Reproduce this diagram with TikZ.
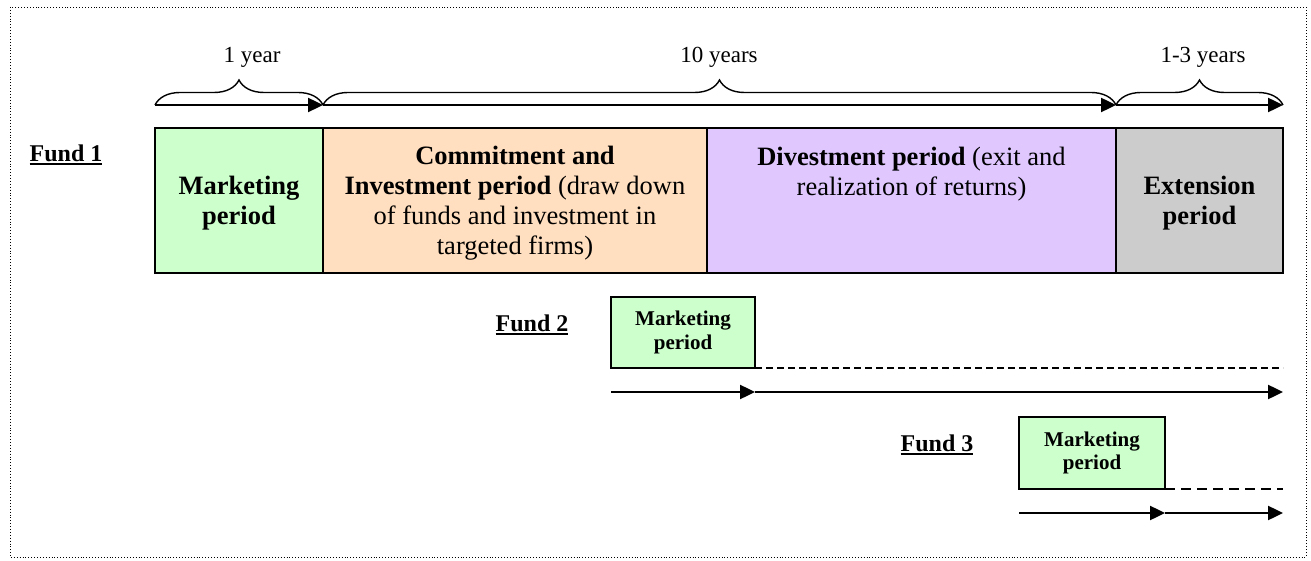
\documentclass[tikz,border=0pt]{standalone}
\usepackage{fontspec}
\setmainfont{Liberation Serif}
\usepackage{tikz}
\usetikzlibrary{arrows.meta,decorations.pathreplacing}

\definecolor{mkgreen}{RGB}{204,255,204}
\definecolor{invorange}{RGB}{255,223,191}
\definecolor{divpurple}{RGB}{224,200,255}
\definecolor{extgrey}{RGB}{204,204,204}

\newcommand{\fundul}[1]{\setbox0\hbox{#1}\rlap{\rule[-4pt]{\wd0}{2pt}}\box0}
\newcommand{\topgap}{\rule{0pt}{24pt}}

\begin{document}
\begin{tikzpicture}
		[x=1pt,y=-1pt,
		ph/.style={draw=black,line width=1.6pt,inner sep=0pt,outer sep=0pt,align=center,minimum height=145pt,font=\fontsize{26.5}{30}\selectfont},
		mk/.style={draw=black,line width=1.6pt,inner sep=0pt,outer sep=0pt,align=center,fill=mkgreen,font=\fontsize{21}{23.5}\selectfont\bfseries},
		tl/.style={line width=2.4pt,-{Triangle[length=15pt,width=14pt]}},
		br/.style={line width=1.4pt,decorate,decoration={brace,amplitude=25pt}},
		yr/.style={font=\fontsize{23}{26}\selectfont},
		fund/.style={font=\fontsize{24}{28}\selectfont\bfseries},
		gap/.style={line width=1.2pt,dash pattern=on 7pt off 4pt}]

		\useasboundingbox (0,0) rectangle (1311,561);
		\draw[dotted,line width=0.9pt] (10,7) rectangle (1306,557);

		% fund 1
		\node[fund] (f1) at (66,155) {\fundul{Fund 1}};

		\node[ph,fill=mkgreen,minimum width=168pt,font=\fontsize{26.5}{30}\selectfont\bfseries] (mkt1) at (239,200.5) {\topgap Marketing\\period};
		\node[ph,fill=invorange,minimum width=384pt] (inv1) at (515,200.5)
			{\topgap\textbf{Commitment and}\\\textbf{Investment period} (draw down\\of funds and investment in\\targeted firms)};
		\node[ph,fill=divpurple,minimum width=409pt] (div1) at (911.5,200.5) {};
		\node[align=center,inner sep=0pt,anchor=north,font=\fontsize{26.5}{30}\selectfont] (divtxt) at (911.5,147)
			{\textbf{Divestment period} (exit and\\realization of returns)};
		\node[ph,fill=extgrey,minimum width=167pt,font=\fontsize{26.5}{30}\selectfont\bfseries] (ext1) at (1199.5,200.5) {\topgap Extension\\period};

		\coordinate (t0) at (155,105);
		\coordinate (t1) at (323,105);
		\coordinate (t2) at (1116,105);
		\coordinate (t3) at (1283,105);

		\draw[tl] (t0) -- (t1);
		\draw[tl] (t1) -- (t2);
		\draw[tl] (t2) -- (t3);

		\draw[br] (t0) -- (t1);
		\draw[br] (t1) -- (t2);
		\draw[br] (t2) -- (t3);

		\node[yr] (y1) at (252,57) {1 year};
		\node[yr] (y10) at (719,57) {10 years};
		\node[yr] (y13) at (1203,57) {1-3 years};

		% fund 2
		\node[fund] (f2) at (532,325) {\fundul{Fund 2}};
		\node[mk,minimum width=144pt,minimum height=71pt] (mkt2) at (683,332.5) {Marketing\\period};

		\coordinate (g2) at (1283,368);
		\draw[gap] (mkt2.south east) -- (g2);

		\coordinate (a20) at (611,392);
		\coordinate (a21) at (755,392);
		\coordinate (a22) at (1283,392);
		\draw[tl] (a20) -- (a21);
		\draw[tl] (a21) -- (a22);

		% fund 3
		\node[fund] (f3) at (937,445) {\fundul{Fund 3}};
		\node[mk,minimum width=146pt,minimum height=72pt] (mkt3) at (1092,453) {Marketing\\period};

		\coordinate (g3) at (1283,489);
		\draw[gap,dash pattern=on 10pt off 6pt] (mkt3.south east) -- (g3);

		\coordinate (a30) at (1019,513);
		\coordinate (a31) at (1165,513);
		\coordinate (a32) at (1283,513);
		\draw[tl] (a30) -- (a31);
		\draw[tl] (a31) -- (a32);
\end{tikzpicture}
\end{document}
